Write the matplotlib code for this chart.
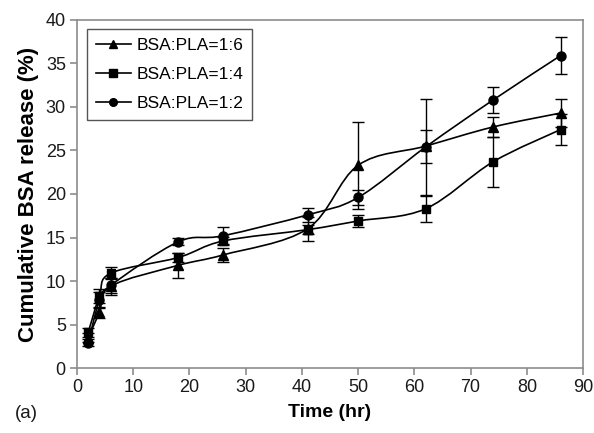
import numpy as np
import matplotlib
matplotlib.use("Agg")
import matplotlib.pyplot as plt
from matplotlib.path import Path
from matplotlib.patches import PathPatch
from matplotlib.lines import Line2D

plt.rcParams['font.family'] = ['Liberation Sans', 'DejaVu Sans']

time_hr = [2, 4, 6, 18, 26, 41, 50, 62, 74, 86]

# BSA:PLA = 1:6 (triangles)
r16 = [3.5, 6.4, 9.4, 11.8, 13.0, 16.0, 23.3, 25.5, 27.7, 29.3]
r16_err = [0.5, 0.6, 1.0, 1.4, 0.8, 1.4, 5.0, 1.9, 1.2, 1.6]
# BSA:PLA = 1:4 (squares)
r14 = [4.1, 8.3, 10.9, 12.7, 14.6, 15.9, 16.9, 18.3, 23.7, 27.4]
r14_err = [0.5, 0.8, 0.7, 0.5, 0.5, 0.5, 0.7, 1.5, 2.9, 1.8]
# BSA:PLA = 1:2 (circles)
r12 = [2.9, 7.8, 9.5, 14.5, 15.2, 17.6, 19.6, 25.4, 30.8, 35.9]
r12_err = [0.4, 0.9, 0.9, 0.4, 1.0, 0.8, 0.9, 5.5, 1.5, 2.1]

labels = ['BSA:PLA=1:6', 'BSA:PLA=1:4', 'BSA:PLA=1:2']
markers = ['^', 's', 'o']


def smooth_path(x, y):
    # Excel-like smoothed line: Catmull-Rom segments drawn as cubic Beziers
    pts = np.column_stack([x, y]).astype(float)
    n = len(pts)
    verts = [pts[0]]
    codes = [Path.MOVETO]
    for i in range(n - 1):
        p0 = pts[i - 1] if i > 0 else pts[i]
        p1 = pts[i]
        p2 = pts[i + 1]
        p3 = pts[i + 2] if i + 2 < n else pts[i + 1]
        c1 = p1 + (p2 - p0) / 6.0
        c2 = p2 - (p3 - p1) / 6.0
        verts += [c1, c2, p2]
        codes += [Path.CURVE4] * 3
    return Path(verts, codes)


fig = plt.figure(figsize=(5.94, 4.33), dpi=100)
ax = fig.add_axes([0.1296, 0.150, 0.852, 0.804])

series = [(r16, r16_err), (r14, r14_err), (r12, r12_err)]
handles = []
for (vals, errs), mk, lab in zip(series, markers, labels):
    ax.add_patch(PathPatch(smooth_path(time_hr, vals), facecolor='none',
                           edgecolor='black', lw=1.2, zorder=2))
    ax.errorbar(time_hr, vals, yerr=errs, fmt='none', ecolor='black',
                elinewidth=1.0, capsize=4, capthick=1.0, zorder=3)
    ax.plot(time_hr, vals, linestyle='none', marker=mk, color='black',
            markersize=6.5 if mk != 's' else 6, zorder=4)
    handles.append(Line2D([], [], color='black', lw=1.2, marker=mk,
                          markersize=5.5))

ax.set_xlim(0, 90)
ax.set_ylim(0, 40)
ax.set_xticks(range(0, 91, 10))
ax.set_yticks(range(0, 41, 5))

for sp in ax.spines.values():
    sp.set_color('#8c8c8c')
    sp.set_linewidth(1.2)
ax.tick_params(direction='out', length=5, width=1.2, color='#8c8c8c',
               labelsize=13, labelcolor='#1a1a1a', pad=3)

ax.set_xlabel('Time (hr)', fontsize=14, fontweight='bold', labelpad=6)
ax.set_ylabel('Cumulative BSA release (%)', fontsize=16, fontweight='bold',
              labelpad=5)

leg = ax.legend(handles, labels, loc='upper left', fontsize=12.5,
                bbox_to_anchor=(0.02, 0.974), borderaxespad=0,
                handlelength=2.0, handletextpad=0.35, labelspacing=0.8,
                borderpad=0.5, fancybox=False, framealpha=1)
leg.get_frame().set_edgecolor('#555555')
leg.get_frame().set_linewidth(1.0)

fig.text(0.025, 0.035, '(a)', fontsize=13.5, color='#1a1a1a')

fig.savefig('out.png', dpi=100)
